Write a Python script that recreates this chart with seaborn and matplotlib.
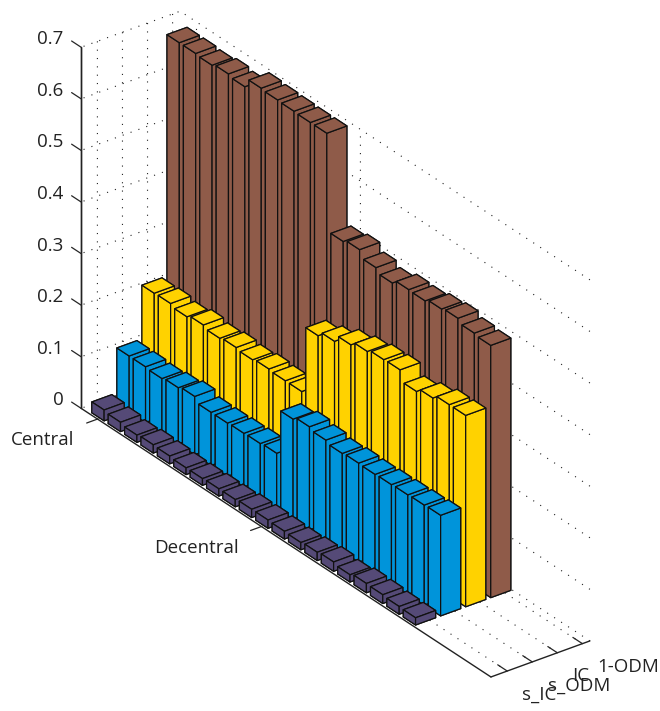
import matplotlib
matplotlib.use('Agg')
import matplotlib.pyplot as plt
import seaborn as sns

# Values, one list per row of bars
s_ic = [.021, .018, .014, .016, .015, .013, .013, .014, .014, .016,
        .016, .015, .014, .016, .018, .014, .018, .017, .015, .014]
s_odm = [.108, .108, .106, .109, .113, .103, .103, .104, .105, .107,
         .194, .200, .195, .190, .192, .191, .192, .193, .194, .195]
ic = [.212, .213, .208, .213, .208, .211, .208, .211, .209, .209,
      .338, .348, .362, .370, .375, .376, .355, .363, .371, .371]
one_odm = [.680, .680, .678, .682, .678, .696, .694, .693, .692, .692,
           .503, .508, .494, .485, .493, .492, .497, .500, .492, .489]

series = [one_odm, ic, s_odm, s_ic]   # back to front, so they overlap correctly
rows = [4, 3, 2, 1]
colores = ['#8F5B49', '#FFD200', '#0094DA', '#554A77']

x_ticks = [1, 11]
x_labels = ['Central', 'Decentral']
y_ticks = [1, 2, 3, 4]
y_labels = ['s_IC', 's_ODM', 'IC', '1-ODM']
z_ticks = [0, .1, .2, .3, .4, .5, .6, .7]
z_labels = ['0', '0.1', '0.2', '0.3', '0.4', '0.5', '0.6', '0.7']

sns.set_theme(style='white')
plt.rcParams['font.family'] = ['Open Sans', 'DejaVu Sans']

fig = plt.figure(figsize=(6.6, 7.11), dpi=100)
ax = fig.add_axes([-3.4 / 660, 28 / 711, 1, 660 / 711], projection='3d', computed_zorder=False)
ax.set_proj_type('ortho')
ax.view_init(elev=29.25, azim=-36.7)
ax.set_box_aspect((686, 123.5, 414), zoom=1.192)
ax.patch.set_alpha(0)

# Bars, one call each so the painter order stays back to front
for valores, fila, cor in zip(series, rows, colores):
    for i, v in enumerate(valores):
        ax.bar3d(i + 1 - .5, fila - .55, 0, .75, .8, v, color=cor, shade=False,
                 edgecolor='#111111', linewidth=.9)

ax.set_xticks(x_ticks)
ax.xaxis.set_tick_params(label1On=False)
ax.set_yticks(y_ticks, y_labels, fontsize=13.5, color='#222222', ha='left', va='center')
ax.set_zticks(z_ticks, z_labels, fontsize=13.5, color='#222222', ha='right', va='center')

# x labels sit further left than the tick label position allows
for t, nome in zip(x_ticks, x_labels):
    ax.text(t - 1.4, .35, -.07, nome, ha='right', va='center', fontsize=13.5, color='#222222')

factors = {ax.xaxis: -1.37, ax.yaxis: .29, ax.zaxis: .29}
for eixo, fator in factors.items():
    eixo.set_pane_color((1, 1, 1, 0))
    eixo.pane.set_edgecolor('none')
    eixo.line.set_color('#222222')
    eixo.line.set_linewidth(1)
    eixo.offsetText.set_visible(False)
    eixo.label.set_visible(False)
    eixo._axinfo['grid'].update(color='#222222', linestyle=(0, (1, 6.5)), linewidth=.8)
    eixo._axinfo['tick'].update(inward_factor=0, outward_factor=fator, linewidth={True: .9, False: .9})

ax.yaxis.set_tick_params(pad=1.2)
ax.zaxis.set_tick_params(pad=.5)
ax.zaxis.set_ticks_position('lower')
ax.zaxis._get_tickdir = lambda pos: 0   # z ticks run along -x like the original

# vertical axis line is not drawn on this side by default
ax.plot([0, 0], [.35, .35], [0, .7], color='#222222', linewidth=1, clip_on=False)
ax.set_xlim(0, 25)
ax.set_ylim(.35, 4.3)
ax.set_zlim(0, .7)
ax.grid(True)
fig.savefig('out.png', dpi=100)
